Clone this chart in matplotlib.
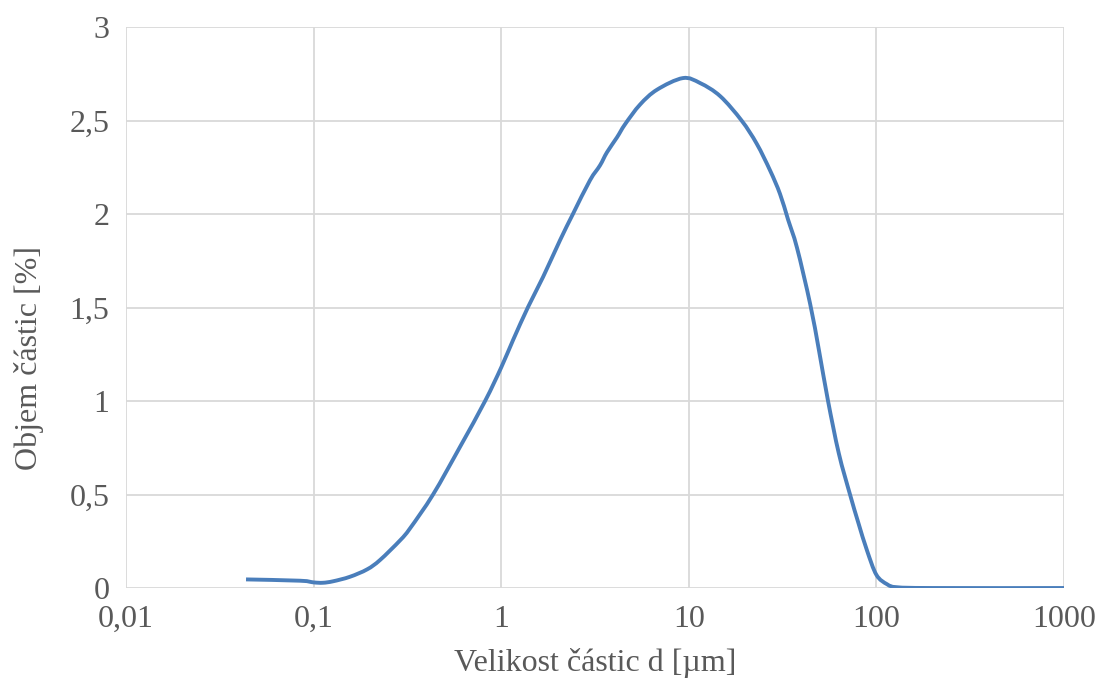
import numpy as np
import matplotlib.pyplot as plt
from matplotlib.path import Path
from matplotlib.patches import PathPatch

# velikost castic d [um] a objem castic [%]
velikost = [0.0436, 0.0846, 0.1, 0.112, 0.127, 0.156, 0.193, 0.226, 0.289, 0.327,
            0.433, 0.603, 0.82, 1.0, 1.156, 1.39, 1.67, 2.06, 2.41, 2.97,
            3.36, 3.66, 4.14, 4.57, 5.49, 6.77, 9.3, 11.5, 14.7, 19.1,
            23.0, 27.1, 30.6, 33.8, 37.7, 44.3, 49.4, 55.2, 63.0, 72.3,
            80.0, 89.1, 100, 114, 129, 200, 1000]
objem = [0.046, 0.039, 0.03, 0.028, 0.036, 0.06, 0.10, 0.15, 0.255, 0.32,
         0.5, 0.755, 1.0, 1.18, 1.326, 1.503, 1.663, 1.861, 2.0, 2.18,
         2.26, 2.33, 2.41, 2.48, 2.585, 2.665, 2.727, 2.70, 2.63, 2.5,
         2.376, 2.233, 2.108, 1.97, 1.82, 1.52, 1.27, 1.0, 0.72, 0.5,
         0.35, 0.2, 0.07, 0.02, 0.004, 0.0, 0.0]

x_ticks = [0.01, 0.1, 1, 10, 100, 1000]
x_labels = ['0,01', '0,1', '1', '10', '100', '1000']
y_ticks = [0, 0.5, 1, 1.5, 2, 2.5, 3]
y_labels = ['0', '0,5', '1', '1,5', '2', '2,5', '3']


def vyhlazena_cesta(x, y):
    """Vyhlazena cara (jako v Excelu) - Bezierovy useky pres zadane body."""
    lx = np.log10(np.asarray(x, dtype=float))
    yy = np.asarray(y, dtype=float)
    pts = np.column_stack([lx, yy])
    n = len(pts)
    verts = [pts[0]]
    codes = [Path.MOVETO]
    for i in range(n - 1):
        p0 = pts[i - 1] if i > 0 else pts[i]
        p1 = pts[i]
        p2 = pts[i + 1]
        p3 = pts[i + 2] if i + 2 < n else pts[i + 1]
        c1 = p1 + (p2 - p0) / 6.0
        c2 = p2 - (p3 - p1) / 6.0
        verts += [c1, c2, p2]
        codes += [Path.CURVE4] * 3
    verts = np.array(verts)
    verts[:, 0] = 10 ** verts[:, 0]
    return Path(verts, codes)


plt.rcParams['font.family'] = ['Liberation Serif', 'DejaVu Serif']

fig = plt.figure(figsize=(10.99, 6.93), dpi=100)
ax = fig.add_axes([0.1147, 0.1515, 0.8535, 0.8095])

ax.set_xscale('log')
ax.set_xlim(0.01, 1000)
ax.set_ylim(0, 3)

cesta = vyhlazena_cesta(velikost, objem)
ax.add_patch(PathPatch(cesta, facecolor='none', edgecolor='#4a7ebb',
                       linewidth=2.8, joinstyle='round', capstyle='butt',
                       zorder=3))

ax.set_xticks(x_ticks)
ax.set_xticklabels(x_labels)
ax.set_yticks(y_ticks)
ax.set_yticklabels(y_labels)
ax.minorticks_off()

ax.grid(True, color='#d9d9d9', linewidth=1.3)
ax.set_axisbelow(True)
for s in ax.spines.values():
    s.set_visible(False)

ax.tick_params(axis='both', length=0, labelsize=23, colors='#595959', pad=12)
ax.set_xlabel('Velikost částic d [µm]', fontsize=23, color='#595959', labelpad=10)
ax.set_ylabel('Objem částic [%]', fontsize=23, color='#595959')
ax.yaxis.set_label_coords(-0.088, 0.41)

fig.savefig('out.png', dpi=100)
